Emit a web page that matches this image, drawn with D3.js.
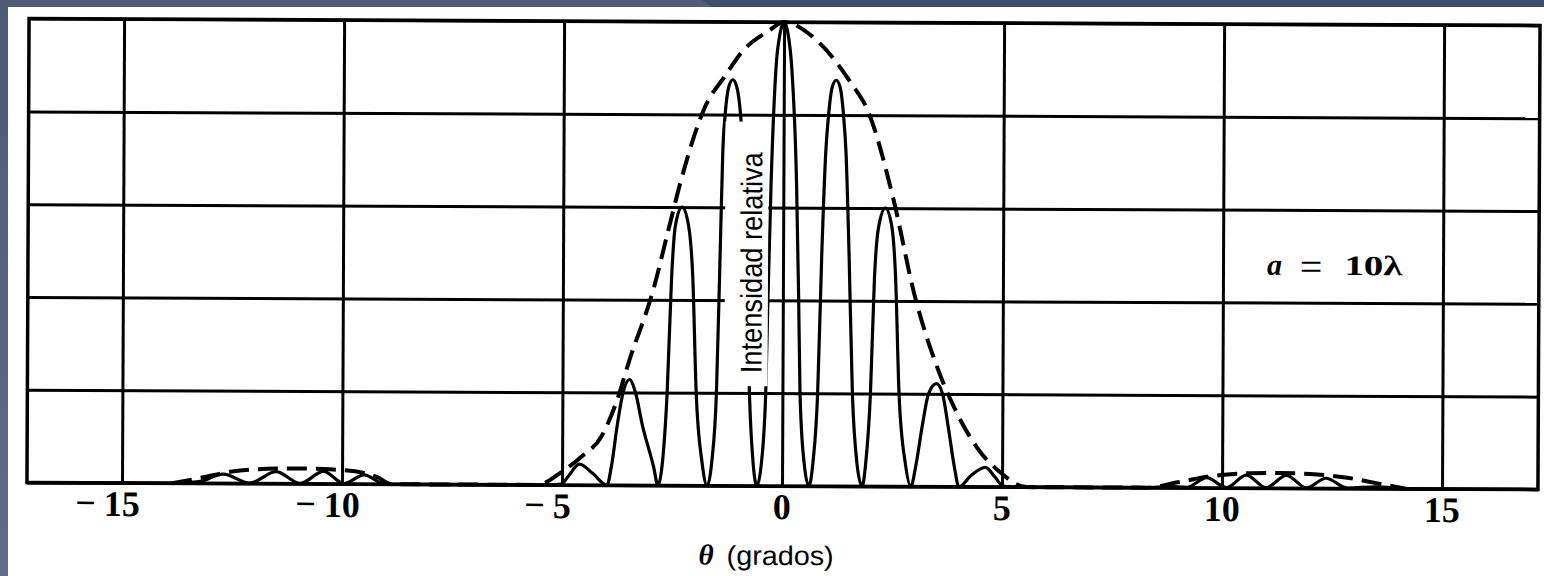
<!DOCTYPE html>
<html>
<head>
<meta charset="utf-8">
<script src="https://cdn.jsdelivr.net/npm/d3@7"></script>
<style>
  html, body { margin: 0; padding: 0; background: #ffffff; }
  svg { display: block; }
</style>
</head>
<body>
<svg id="chart" width="1544" height="576"></svg>
<script>
// ---- Data: double-slit pattern, a = 10λ (θ in degrees, relative intensity) ----
const xTicks = [-15, -10, -5, 0, 5, 10, 15];
const yGrid = [0, 0.2, 0.4, 0.6, 0.8, 1.0];

// Solid curve: left secondary lobe fringes
const lobeLeft = [
  [-17.16, 0], [-13.9, 0], [-13.25, 0.004], [-12.7, 0.02], [-12.1, 0.001],
  [-11.5, 0.026], [-10.95, 0.001], [-10.42, 0.027], [-9.95, 0.001],
  [-9.5, 0.02], [-9.05, 0.001], [-8.6, 0]
];

// Solid curve: fringes under the central maximum
const centralFringes = [
  [-5.4, 0], [-5.02, 0.002], [-4.85, 0.02], [-4.61, 0.045], [-4.3, 0.025], [-3.98, 0],
  [-3.88, 0.04], [-3.75, 0.13], [-3.62, 0.2], [-3.48, 0.228], [-3.34, 0.2], [-3.18, 0.13], [-2.92, 0.04], [-2.82, 0],
  [-2.72, 0.05], [-2.62, 0.2], [-2.53, 0.45], [-2.45, 0.56], [-2.30, 0.60], [-2.15, 0.56], [-2.05, 0.45], [-1.96, 0.2], [-1.82, 0.05], [-1.70, 0],
  [-1.60, 0.05], [-1.50, 0.2], [-1.43, 0.5], [-1.38, 0.72], [-1.33, 0.80], [-1.25, 0.86], [-1.16, 0.875], [-1.07, 0.86], [-0.98, 0.80], [-0.92, 0.72], [-0.83, 0.5], [-0.75, 0.2], [-0.66, 0.05], [-0.57, 0],
  [-0.47, 0.05], [-0.38, 0.2], [-0.34, 0.4], [-0.28, 0.65], [-0.18, 0.9], [-0.09, 0.975], [0, 1.0], [0.09, 0.975], [0.18, 0.9], [0.30, 0.65], [0.36, 0.4], [0.40, 0.2], [0.50, 0.05], [0.61, 0],
  [0.70, 0.05], [0.80, 0.2], [0.88, 0.5], [0.96, 0.72], [1.02, 0.80], [1.10, 0.86], [1.19, 0.875], [1.28, 0.86], [1.36, 0.80], [1.42, 0.72], [1.50, 0.5], [1.59, 0.2], [1.70, 0.05], [1.82, 0],
  [1.90, 0.05], [2.00, 0.2], [2.08, 0.45], [2.17, 0.56], [2.32, 0.60], [2.47, 0.56], [2.56, 0.45], [2.65, 0.2], [2.80, 0.05], [2.93, 0],
  [3.03, 0.04], [3.18, 0.13], [3.32, 0.2], [3.50, 0.222], [3.64, 0.2], [3.77, 0.13], [3.92, 0.04], [4.02, 0],
  [4.30, 0.025], [4.62, 0.042], [4.85, 0.02], [5.02, 0.002], [5.4, 0]
];

// Solid curve: right secondary lobe fringes
const lobeRight = [
  [8.3, 0], [8.8, 0.003], [9.2, 0.001], [9.65, 0.022], [10.1, 0.001],
  [10.55, 0.028], [11.0, 0.001], [11.46, 0.028], [11.92, 0.001],
  [12.36, 0.022], [12.85, 0.001], [13.5, 0.004], [14.2, 0], [17.18, 0]
];

// Dashed single-slit envelope
const envelopeLeft = [
  [-13.86, 0], [-13.2, 0.012], [-12.5, 0.026], [-11.7, 0.032], [-11.0, 0.033],
  [-10.2, 0.031], [-9.5, 0.024], [-9.2, 0.015], [-8.86, 0]
];
const envelopeCentral = [
  [-5.6, 0], [-5.4, 0.004], [-5.07, 0.024], [-4.55, 0.062], [-4.11, 0.105], [-3.77, 0.18],
  [-3.48, 0.27], [-2.95, 0.42], [-2.61, 0.55], [-2.34, 0.653], [-1.77, 0.82], [-1.36, 0.88],
  [-0.91, 0.94], [-0.36, 0.98], [0, 1.0], [0.55, 0.976], [1.14, 0.92], [1.52, 0.87],
  [1.91, 0.81], [2.5, 0.62], [3.0, 0.41], [3.52, 0.256], [4.02, 0.149], [4.48, 0.078],
  [4.93, 0.034], [5.55, 0]
];
const envelopeRight = [
  [8.27, 0], [9.0, 0.012], [9.8, 0.026], [10.6, 0.032], [11.3, 0.033],
  [12.0, 0.031], [12.8, 0.024], [13.5, 0.012], [14.18, 0]
];

// ---- Layout ----
const svg = d3.select('#chart');
const W = 1544, H = 576;
const plot = { left: 28, right: 1539, top: 22, bottom: 486 };

// Slide-style backdrop
const defs = svg.append('defs');
const lg = defs.append('linearGradient').attr('id', 'sideBand')
  .attr('x1', 0).attr('y1', 0).attr('x2', 0).attr('y2', 1);
lg.append('stop').attr('offset', '0%').attr('stop-color', '#4c5a76');
lg.append('stop').attr('offset', '100%').attr('stop-color', '#5e6d8c');

svg.append('rect').attr('width', W).attr('height', H).attr('fill', '#3f4e6d');
svg.append('polygon').attr('points', '0,0 702,0 712,7 0,7').attr('fill', '#505d77');
svg.append('rect').attr('x', 0).attr('y', 0).attr('width', 8).attr('height', H).attr('fill', 'url(#sideBand)');
svg.append('rect').attr('x', 8).attr('y', 7).attr('width', W - 8).attr('height', H - 7).attr('fill', '#ffffff');

const x = d3.scaleLinear().domain([-17.16, 17.18]).range([plot.left, plot.right]);
const y = d3.scaleLinear().domain([0, 1]).range([plot.bottom, plot.top]);

const g = svg.append('g').attr('transform', 'rotate(0.26, 783, 254)');

// Grid
const vGrid = g.append('g')
  .attr('transform', `translate(0,${plot.bottom})`)
  .call(d3.axisBottom(x).tickValues(xTicks).tickSize(-(plot.bottom - plot.top)).tickFormat(''));
const hGrid = g.append('g')
  .attr('transform', `translate(${plot.left},0)`)
  .call(d3.axisLeft(y).tickValues(yGrid).tickSize(-(plot.right - plot.left)).tickFormat(''));
[vGrid, hGrid].forEach(a => {
  a.select('.domain').remove();
  a.selectAll('line').attr('stroke', '#000').attr('stroke-width', 3);
});

// Frame
g.append('rect')
  .attr('x', plot.left).attr('y', plot.top)
  .attr('width', plot.right - plot.left).attr('height', plot.bottom - plot.top)
  .attr('fill', 'none').attr('stroke', '#000').attr('stroke-width', 3.5);

// Curves
const line = d3.line().x(d => x(d[0])).y(d => y(d[1])).curve(d3.curveMonotoneX);

const solid = lobeLeft.concat(centralFringes, lobeRight);
g.append('path').attr('d', line(solid))
  .attr('fill', 'none').attr('stroke', '#000').attr('stroke-width', 3.2)
  .attr('stroke-linejoin', 'round');

const envelope = envelopeLeft.concat([[-7.5, 0]], envelopeCentral, [[7.0, 0]], envelopeRight);
g.append('path').attr('d', line(envelope))
  .attr('fill', 'none').attr('stroke', '#000').attr('stroke-width', 4)
  .attr('stroke-dasharray', '20 9');

// Vertical axis title on a white panel
const titleBox = { x0: x(-1.32), x1: x(-0.34), yTop: y(0.785), yBot: y(0.215) };
g.append('rect')
  .attr('x', titleBox.x0).attr('y', titleBox.yTop)
  .attr('width', titleBox.x1 - titleBox.x0).attr('height', titleBox.yBot - titleBox.yTop)
  .attr('fill', '#fff');
g.append('text')
  .attr('transform', `translate(${x(-0.48)},${(y(0.243) + y(0.719)) / 2}) rotate(-90)`)
  .attr('text-anchor', 'middle')
  .attr('font-family', '"Liberation Sans Narrow", "Liberation Sans", Arial, sans-serif')
  .attr('font-size', 30)
  .attr('textLength', 221).attr('lengthAdjust', 'spacingAndGlyphs')
  .attr('fill', '#000')
  .text('Intensidad relativa');

// Tick labels: digits centred on the gridline, minus sign hung to the left
const tickFont = '"Liberation Serif", "Times New Roman", serif';
const labelY = plot.bottom + 33;
xTicks.forEach(t => {
  const digits = g.append('text')
    .attr('x', x(t)).attr('y', labelY)
    .attr('text-anchor', 'middle')
    .attr('font-family', tickFont).attr('font-weight', 'bold').attr('font-size', 36)
    .attr('fill', '#000')
    .text(Math.abs(t));
  if (t < 0) {
    const w = digits.node().getComputedTextLength();
    g.append('text')
      .attr('x', x(t) - w / 2 - 8).attr('y', labelY - 1)
      .attr('text-anchor', 'end')
      .attr('font-family', tickFont).attr('font-weight', 'bold').attr('font-size', 36)
      .attr('fill', '#000')
      .text('\u2212');
  }
});

// Axis title
const xt = g.append('text')
  .attr('x', 700).attr('y', 565)
  .attr('fill', '#000');
xt.append('tspan')
  .attr('font-family', tickFont).attr('font-style', 'italic').attr('font-weight', 'bold')
  .attr('font-size', 29).text('\u03b8');
g.append('text')
  .attr('x', 728).attr('y', 565)
  .attr('font-family', '"Liberation Sans", Arial, sans-serif').attr('font-size', 27)
  .attr('textLength', 107).attr('lengthAdjust', 'spacingAndGlyphs')
  .attr('fill', '#000')
  .text('(grados)');

// Slit-width annotation
const annY = y(0.46);
g.append('text').attr('x', x(11.0)).attr('y', annY)
  .attr('font-family', tickFont).attr('font-style', 'italic').attr('font-weight', 'bold')
  .attr('font-size', 30).attr('fill', '#000').text('a');
g.append('text').attr('x', x(12.0)).attr('y', annY + 5)
  .attr('text-anchor', 'middle')
  .attr('font-family', tickFont)
  .attr('font-size', 40).attr('fill', '#000').text('=');
g.append('text').attr('x', x(12.76)).attr('y', annY)
  .attr('font-family', tickFont).attr('font-weight', 'bold')
  .attr('font-size', 28).attr('fill', '#000')
  .attr('textLength', 58).attr('lengthAdjust', 'spacingAndGlyphs')
  .text('10\u03bb');
</script>
</body>
</html>
